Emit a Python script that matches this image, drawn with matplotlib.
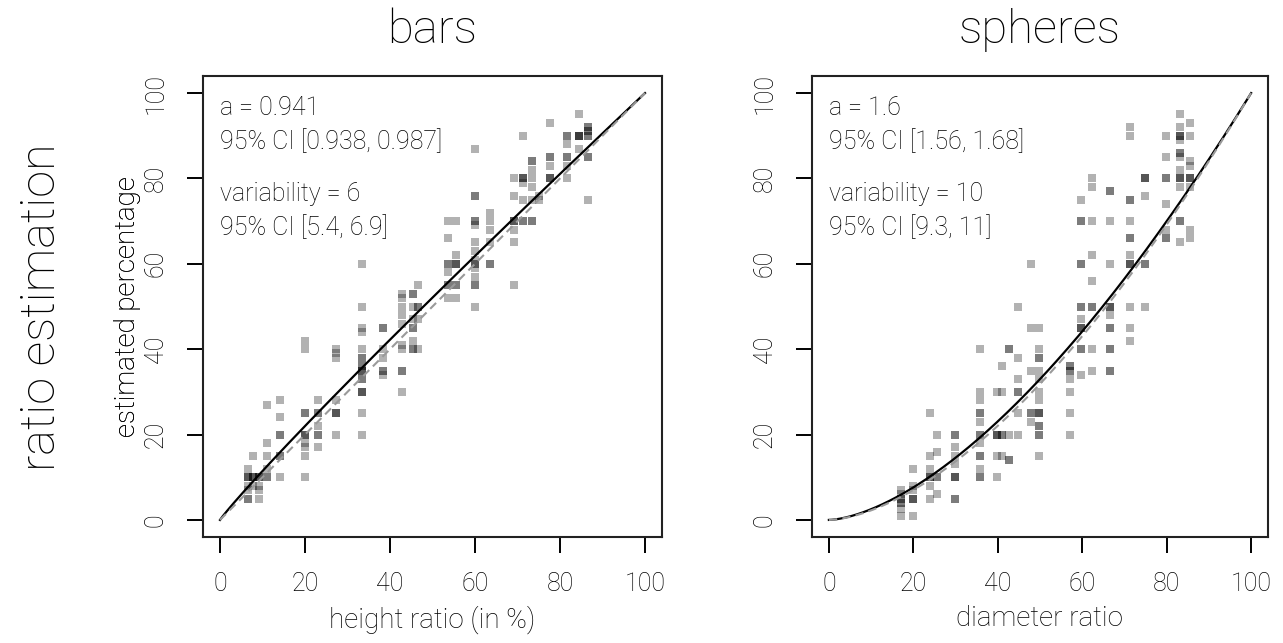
import numpy as np
import matplotlib
matplotlib.use("Agg")
import matplotlib.pyplot as plt

plt.rcParams["font.family"] = ["Roboto", "DejaVu Sans"]
plt.rcParams["font.weight"] = "light"
plt.rcParams["axes.labelweight"] = "light"

# bars panel: stimulus ratio, answer, number of identical answers
bars_x = [6.7]*5 + [7.7]*3 + [9.1]*4 + [11.1]*5 + [14.2]*5 + [20]*8 + [23]*5 + [27.2]*6 \
    + [33.3]*12 + [38.4]*5 + [42.8]*9 + [45.4]*6 + [46.6]*4 + [53.7]*6 + [55.5]*5 \
    + [60]*12 + [63.5]*5 + [69.1]*6 + [71.2]*5 + [73.3]*6 + [75.1]*2 + [77.7]*4 \
    + [81.6]*5 + [84.5]*3 + [86.5]*5
bars_y = [12, 10, 8, 7, 5, 15, 10, 8, 10, 8, 7, 5, 27, 18, 15, 12, 10, 28, 24, 20, 15, 10,
          42, 40, 25, 20, 18, 17, 15, 10, 28, 25, 22, 20, 17, 40, 39, 38, 28, 25, 20,
          60, 50, 45, 44, 40, 38, 36, 35, 33, 30, 25, 20, 45, 40, 38, 35, 34,
          53, 52, 50, 48, 46, 41, 40, 35, 30, 53, 50, 47, 45, 42, 40, 55, 50, 47, 40,
          70, 66, 60, 58, 55, 52, 70, 62, 60, 55, 52,
          87, 76, 70, 69, 65, 63, 61, 60, 59, 57, 55, 50, 72, 70, 68, 65, 60,
          80, 76, 70, 68, 65, 55, 90, 80, 79, 75, 70, 84, 82, 80, 78, 75, 70, 76, 75,
          93, 85, 83, 80, 90, 88, 85, 83, 80, 95, 90, 87, 92, 91, 90, 85, 75]
bars_n = [1, 3, 1, 1, 2, 1, 3, 1, 3, 1, 1, 1, 1, 1, 1, 1, 2, 1, 1, 2, 2, 1,
          1, 1, 2, 3, 1, 1, 1, 1, 1, 2, 1, 2, 1, 1, 1, 1, 1, 3, 1,
          1, 1, 1, 1, 1, 2, 2, 3, 2, 3, 1, 1, 2, 1, 1, 2, 1,
          1, 1, 1, 1, 1, 1, 1, 2, 1, 2, 1, 1, 2, 1, 2, 1, 2, 1, 1,
          1, 1, 2, 1, 2, 1, 1, 1, 3, 2, 1,
          1, 2, 2, 1, 1, 1, 1, 2, 1, 1, 2, 1, 1, 1, 1, 1, 2,
          1, 1, 3, 1, 1, 1, 1, 3, 1, 1, 2, 2, 1, 1, 1, 1, 2, 1, 1,
          1, 2, 1, 3, 2, 1, 2, 1, 1, 1, 4, 1, 2, 2, 2, 2, 1]

# spheres panel
sph_x = [17.1]*6 + [20]*5 + [23.9]*6 + [25.6]*4 + [29.8]*6 + [35.8]*10 + [39.9]*4 \
    + [41]*4 + [42.7]*3 + [44.9]*6 + [47.8]*5 + [49.8]*11 + [57.1]*6 + [59.8]*8 \
    + [62.4]*8 + [66.5]*8 + [71.4]*10 + [74.9]*4 + [79.8]*6 + [83.1]*11 + [85.6]*8
sph_y = [7, 6, 5, 4, 2.6, 1, 12, 8, 7, 5, 1, 25, 15, 12, 10, 8, 5, 20, 16, 10, 6,
         20, 17, 15, 13, 10, 5, 40, 30, 28, 25, 23, 20, 18, 15, 12, 10,
         30, 20, 15, 10, 36, 30, 20, 15, 40, 20, 14, 50, 38, 33, 30, 25, 20,
         60, 45, 35, 25, 23, 45, 40, 38, 35, 33, 30, 28, 25, 22, 20, 15,
         36, 35, 33, 30, 25, 20, 75, 70, 60, 50, 47, 45, 40, 34,
         80, 78, 70, 62, 56, 50, 40, 35, 77, 70, 60, 50, 48, 45, 40, 35,
         92, 90, 75, 70, 66, 62, 60, 50, 45, 42, 80, 76, 60, 50,
         90, 85, 80, 74, 68, 66, 95, 92, 90, 89, 86, 85, 82, 80, 78, 70, 65,
         93, 90, 84, 83, 80, 78, 68, 66]
sph_n = [1, 1, 2, 2, 1, 1, 1, 1, 1, 3, 1, 1, 1, 1, 3, 1, 1, 1, 1, 2, 1,
         2, 1, 1, 1, 3, 2, 1, 1, 1, 2, 1, 2, 1, 2, 1, 2,
         1, 3, 1, 1, 1, 1, 2, 1, 2, 1, 2, 1, 1, 1, 2, 1, 1,
         1, 1, 1, 2, 1, 1, 1, 2, 1, 1, 1, 1, 3, 2, 2, 1,
         2, 2, 1, 1, 1, 1, 1, 2, 2, 2, 1, 3, 2, 1,
         1, 1, 1, 1, 1, 2, 1, 1, 2, 1, 1, 3, 1, 2, 2, 2,
         1, 1, 2, 1, 2, 1, 3, 1, 1, 1, 3, 1, 2, 1,
         1, 1, 2, 1, 1, 2, 1, 1, 3, 1, 2, 1, 1, 3, 1, 2, 1,
         1, 1, 1, 1, 3, 1, 1, 1]

panels = [
    dict(title="bars", xlabel="height ratio (in %)", x=bars_x, y=bars_y, n=bars_n,
         fit=0.941, ref=1.0,
         text=["a = 0.941", "95% CI [0.938, 0.987]", "variability = 6", "95% CI [5.4, 6.9]"]),
    dict(title="spheres", xlabel="diameter ratio", x=sph_x, y=sph_y, n=sph_n,
         fit=1.6, ref=1.65,
         text=["a = 1.6", "95% CI [1.56, 1.68]", "variability = 10", "95% CI [9.3, 11]"]),
]

W, H = 1283, 643
fig = plt.figure(figsize=(W / 100, H / 100), dpi=100)
boxes = [(203, 662), (812, 1268)]
top, bottom = 76, 537
ink = "black"

for (l, r), p in zip(boxes, panels):
    ax = fig.add_axes([l / W, 1 - bottom / H, (r - l) / W, (bottom - top) / H])
    xs = np.repeat(p["x"], p["n"])
    ys = np.repeat(p["y"], p["n"])
    ax.scatter(xs, ys, marker="s", s=30, color="black", alpha=0.3, linewidths=0, zorder=2)
    t = np.linspace(0, 100, 300)
    ax.plot(t, 100 * (t / 100) ** p["fit"], color="black", lw=1.6, zorder=3)
    ax.plot(t, 100 * (t / 100) ** p["ref"], color="#9a9a9a", lw=1.5, dashes=(4, 2.5), zorder=4)
    ax.set_xlim(-4, 104)
    ax.set_ylim(-4, 104)
    ticks = [0, 20, 40, 60, 80, 100]
    ax.set_xticks(ticks)
    ax.set_yticks(ticks)
    ax.tick_params(direction="out", length=11.5, width=1.4, labelsize=18, pad=14,
                   colors=ink)
    for lab in ax.get_yticklabels():
        lab.set_rotation(90)
        lab.set_va("center")
    for s in ax.spines.values():
        s.set_linewidth(1.5)
        s.set_color("#222222")
    ax.set_xlabel(p["xlabel"], fontsize=20, color=ink)
    ax.set_ylabel("estimated percentage", fontsize=20, color=ink)
    ax.xaxis.set_label_coords(0.5, -(605 - bottom) / (bottom - top))
    ax.yaxis.set_label_coords(-(l - 141) / (r - l), 0.5)
    for txt, yy in zip(p["text"], [94.8, 86.8, 74.7, 66.8]):
        ax.text(0, yy, txt, fontsize=18, va="baseline", ha="left", color=ink)
    fig.text((l + r) / 2 / W, 1 - 43 / H, p["title"], fontsize=34, ha="center",
             va="baseline", color="black")

fig.text(55 / W, 1 - 307 / H, "ratio estimation", fontsize=35, rotation=90,
         rotation_mode="anchor", ha="center", va="baseline", color="black")

fig.savefig("out.png", dpi=100)
